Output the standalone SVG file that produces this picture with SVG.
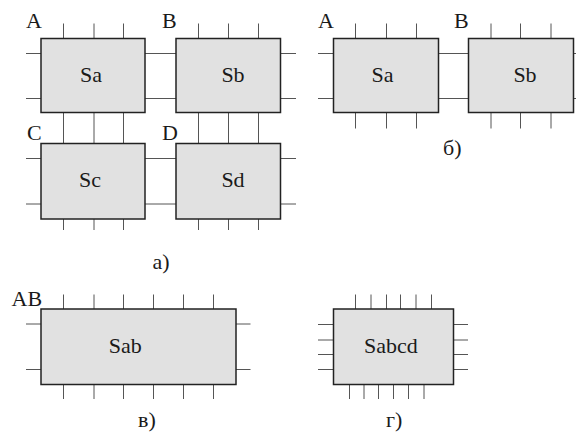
<svg xmlns="http://www.w3.org/2000/svg" width="576" height="437" viewBox="0 0 576 437">
<style>
.w{stroke:#555;stroke-width:1;fill:none}
.b{fill:#e1e1e1;stroke:#222;stroke-width:1.5}
.c{text-anchor:middle}
</style>
<rect width="576" height="437" fill="#fff"/>
<g id="connectors">
<path class="w" d="M63.5,23.5V230M94,23.5V230M123.5,23.5V230M198.5,23.5V230M228.5,23.5V230M258.5,23.5V230M26,53.5H296M26,98.5H296M26,158.5H296M26,204H296"/>
<path class="w" d="M355.5,23.5V128.5M386.5,23.5V128.5M416.5,23.5V128.5M491,23.5V128.5M520.5,23.5V128.5M551,23.5V128.5M318,53.5H576M318,98.5H576"/>
<path class="w" d="M63.5,294.5V399M94,294.5V399M123.5,294.5V399M153.5,294.5V399M183.5,294.5V399M213.5,294.5V399M26,324H250.5M26,369.5H250.5"/>
<path class="w" d="M355.5,294.5V309M371,294.5V309M386.5,294.5V309M400.5,294.5V309M416,294.5V309M431.5,294.5V309M349.5,384.5V399M364,384.5V399M378.5,384.5V399M393.5,384.5V399M408.5,384.5V399M424,384.5V399M318,324.5H333M318,340H333M318,354.5H333M318,369.5H333M453,324.5H468M453,340H468M453,354.5H468M453,369.5H468"/>
</g>
<g font-family="Liberation Serif" font-size="22" fill="#1a1a1a">
<g id="Sa"><rect class="b" x="41" y="38.5" width="104" height="74"/><text class="c" x="91" y="82">Sa</text><text x="26" y="28">A</text></g>
<g id="Sb"><rect class="b" x="176" y="38.5" width="104.5" height="74"/><text class="c" x="233" y="82">Sb</text><text x="162" y="28">B</text></g>
<g id="Sc"><rect class="b" x="41" y="143.5" width="104" height="75.5"/><text class="c" x="90" y="187">Sc</text><text x="27" y="140">C</text></g>
<g id="Sd"><rect class="b" x="176" y="143.5" width="104.5" height="75.5"/><text class="c" x="233" y="187">Sd</text><text x="162" y="140">D</text></g>
<g id="Sa2"><rect class="b" x="333.5" y="38.5" width="105" height="74"/><text class="c" x="382.5" y="82">Sa</text><text x="318" y="28">A</text></g>
<g id="Sb2"><rect class="b" x="468.5" y="38.5" width="105" height="74"/><text class="c" x="525" y="82">Sb</text><text x="454" y="28">B</text></g>
<g id="Sab"><rect class="b" x="41" y="309" width="195" height="75.5"/><text class="c" x="125.3" y="352.7">Sab</text><text x="11.5" y="306">AB</text></g>
<g id="Sabcd"><rect class="b" x="333.5" y="309" width="120" height="75.5"/><text class="c" x="391" y="352.7">Sabcd</text></g>
<g id="captions">
<text x="152.5" y="269">а)</text>
<text x="443" y="155">б)</text>
<text x="138" y="427">в)</text>
<text x="386" y="427">г)</text>
</g>
</g>
</svg>
